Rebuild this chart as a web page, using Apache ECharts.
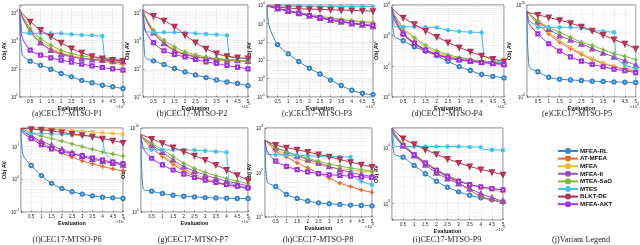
<!DOCTYPE html>
<html><head><meta charset="utf-8">
<script src="https://cdn.jsdelivr.net/npm/echarts@6/dist/echarts.min.js"></script>
<style>html,body{margin:0;padding:0;background:#fff}#c{width:640px;height:245px}</style>
</head><body><div id="c"></div>
<script>
// ---------- data ----------
const names = ['MFEA-RL','AT-MFEA','MFEA','MFEA-II','MTEA-SaO','MTES','BLKT-DE','MFEA-AKT'];
const xTickLabels = ['0.5','1','1.5','2','2.5','3','3.5','4','4.5','5'];
const X = [0,0.1,0.5,1,1.5,2,2.5,3,3.5,4,4.5,5];
const X_MTES = [0,0.1,0.5,1,1.5,2,2.5,3,3.5,4,4.1,4.5,5];
const captions = ['(a)CEC17-MTSO-P1','(b)CEC17-MTSO-P2','(c)CEC17-MTSO-P3','(d)CEC17-MTSO-P4','(e)CEC17-MTSO-P5',
  '(f)CEC17-MTSO-P6','(g)CEC17-MTSO-P7','(h)CEC17-MTSO-P8','(i)CEC17-MTSO-P9','(j)Variant Legend'];

const p1_rl = [1.25e4,353,188,135,97,68,52,39,32,26,23,20];
const p1_at = [1.25e4,7.2e3,2.1e3,849,490,353,283,240,215,193,178,164];
const p1_mfea = [1.25e4,7.6e3,2.4e3,1.0e3,578,383,299,247,210,183,159,143];
const p1_ii = [1.25e4,7.2e3,2.1e3,849,464,325,268,234,215,204,193,183];
const p1_sao = [1.25e4,8.26e3,2.75e3,1.21e3,700,464,353,291,254,228,215,204];
const p1_mtes = [1.25e4,1.93e3,1.83e3,1.83e3,1.83e3,1.83e3,1.68e3,1.59e3,1.55e3,1.47e3,254,228,215];
const p1_blkt = [1.25e4,9.5e3,4.77e3,2.4e3,1.39e3,849,532,373,283,234,210,193];
const p1_akt = [1.25e4,1.39e3,464,308,247,204,173,147,128,112,100,90];

const p2_rl = [1.25e4,268,193,143,103,78,61,49,40,34,30,25];
const p2_at = [1.25e4,6.8e3,1.93e3,849,464,334,268,234,215,199,188,178];
const p2_mfea = [1.25e4,7.2e3,2.1e3,920,490,353,283,240,215,199,188,178];
const p2_ii = [1.25e4,6.8e3,1.93e3,804,440,325,268,240,221,210,199,188];
const p2_sao = [1.25e4,7.6e3,2.4e3,1.06e3,611,405,316,268,234,215,204,193];
const p2_mtes = [1.25e4,2.1e3,1.99e3,1.99e3,1.99e3,1.93e3,1.83e3,1.73e3,1.64e3,1.55e3,268,240,221];
const p2_blkt = [1.25e4,1.09e4,7.6e3,5.2e3,3.16e3,1.59e3,871,518,353,283,254,234];
const p2_akt = [1.25e4,2.4e3,849,440,325,268,215,178,155,132,115,100];

const p3_rl = [9.2e3,724,70.6,22.5,8.5,3.65,1.78,0.83,0.42,0.233,0.159,0.135];
const p3_at = [9.2e3,8.4e3,6.3e3,4.67e3,3.47e3,2.58e3,2.0e3,1.55e3,1.26e3,1.02e3,859,724];
const p3_mfea = [9.2e3,8.4e3,6.55e3,4.87e3,3.78e3,2.93e3,2.28e3,1.84e3,1.55e3,1.31e3,1.16e3,1.02e3];
const p3_ii = [9.2e3,8.4e3,6.3e3,4.67e3,3.47e3,2.58e3,1.92e3,1.49e3,1.21e3,975,822,695];
const p3_sao = [9.2e3,8.4e3,6.55e3,5.08e3,3.94e3,3.05e3,2.47e3,2.0e3,1.69e3,1.43e3,1.26e3,1.11e3];
const p3_mtes = [9.2e3,8.8e3,8.8e3,8.8e3,8.8e3,8.4e3,8.4e3,8.4e3,8.4e3,8.4e3,8.4e3,8.4e3,8.1e3];
const p3_blkt = [9.2e3,8.8e3,7.76e3,6.8e3,6.3e3,6.0e3,5.77e3,5.53e3,5.3e3,5.08e3,4.87e3,4.67e3];
const p3_akt = [9.2e3,8.4e3,6.55e3,4.87e3,3.62e3,2.69e3,2.09e3,1.62e3,1.31e3,1.06e3,896,789];

const p4_rl = [8.2e3,991,682,436,308,223,146,98,73,54,47,42];
const p4_at = [8.2e3,4.08e3,1.12e3,532,324,234,187,162,146,136,126,120];
const p4_mfea = [8.2e3,4.73e3,1.63e3,773,436,286,218,183,162,146,136,126];
const p4_ii = [8.2e3,4.39e3,1.27e3,588,349,253,197,170,154,139,129,120];
const p4_sao = [8.2e3,4.98e3,1.84e3,875,494,324,240,197,170,150,139,129];
const p4_mtes = [8.2e3,1.94e3,1.94e3,1.94e3,1.89e3,1.84e3,1.51e3,1.37e3,1.30e3,1.27e3,223,154,132];
const p4_blkt = [8.2e3,6.4e3,3.88e3,2.36e3,1.44e3,919,603,415,301,223,174,146];
const p4_akt = [8.2e3,3.43e3,1.12e3,560,340,240,187,162,146,132,123,114];

const p5_rl = [1.93e9,1.93e3,562,139,85,72,61,52,48,44,40,37];
const p5_at = [1.93e9,1.0e9,8.5e7,7.2e6,9.2e5,1.78e5,4.4e4,1.18e4,4.4e3,1.93e3,1.0e3,562];
const p5_mfea = [1.93e9,1.0e9,1.28e8,1.09e7,1.39e6,2.68e5,6.1e4,1.51e4,5.2e3,2.28e3,1.28e3,850];
const p5_ii = [1.93e9,1.18e9,1.64e8,2.47e7,4.8e6,1.64e6,6.1e5,1.78e5,6.1e4,2.28e4,8.5e3,2.91e3];
const p5_sao = [1.93e9,1.18e9,1.93e8,3.73e7,1.09e7,3.16e6,9.2e5,4.05e5,1.39e5,5.2e4,2.68e4,1.18e4];
const p5_mtes = [1.93e9,1.93e8,3.73e7,3.73e7,3.73e7,3.73e7,3.16e7,1.64e7,1.39e7,1.09e7,1.51e4,2.91e3,1.28e3];
const p5_blkt = [1.93e9,1.51e9,8.5e8,4.4e8,2.28e8,1.09e8,4.4e7,1.64e7,5.6e6,1.78e6,6.1e5,1.78e5];
const p5_akt = [1.93e9,8.5e7,7.2e6,6.1e5,1.0e5,2.28e4,7.8e3,3.43e3,1.93e3,1.09e3,720,440];

const p6_rl = [35,5.5,2.6,1.28,0.745,0.523,0.412,0.35,0.31,0.283,0.27,0.257];
const p6_at = [35,30.4,18.9,12.7,8.9,6.2,4.7,3.62,2.93,2.42,2.06,1.78];
const p6_mfea = [35,35,34.1,33.3,32.6,31.8,30.4,29.0,27.6,25.7,24.5,22.9];
const p6_ii = [35,30.4,20.3,14.3,10.7,7.9,6.2,4.9,4.07,3.45,3.07,2.73];
const p6_sao = [35,32.6,25.7,20.3,17.2,14.3,11.8,9.8,8.1,6.7,5.8,5.0];
const p6_mtes = [35,25.7,25.1,24.5,23.9,23.4,22.3,21.3,20.3,18.0,6.2,3.45,2.86];
const p6_blkt = [35,35,33.3,31.8,29.0,26.4,23.9,21.8,19.8,17.2,14.9,12.7];
const p6_akt = [35,25.7,17.2,11.2,8.3,7.0,5.9,5.2,4.4,3.79,3.29,2.93];

const p7_rl = [1.58e9,630,302,158,100,76,63,52,48,44,40,40];
const p7_at = [1.58e9,5.2e8,4.0e7,4.0e6,4.8e5,7.6e4,1.9e4,6.3e3,3.0e3,1.58e3,1.0e3,630];
const p7_mfea = [1.58e9,6.3e8,6.3e7,6.3e6,7.6e5,1.32e5,3.3e4,1.0e4,4.0e3,2.1e3,1.2e3,760];
const p7_ii = [1.58e9,7.6e8,1.0e8,1.32e7,1.58e6,2.5e5,7.6e4,2.5e4,1.0e4,4.8e3,2.5e3,1.32e3];
const p7_sao = [1.58e9,7.6e8,1.58e8,2.5e7,4.0e6,6.3e5,1.58e5,5.2e4,2.1e4,1.0e4,4.8e3,2.5e3];
const p7_mtes = [1.58e9,4.0e7,2.5e7,2.5e7,2.5e7,2.5e7,2.3e7,1.9e7,1.58e7,1.32e7,4.0e3,1.0e3,630];
const p7_blkt = [1.58e9,1.32e9,5.2e8,1.58e8,4.8e7,1.58e7,5.2e6,1.58e6,4.0e5,1.0e5,2.5e4,6.3e3];
const p7_akt = [1.58e9,4.0e7,2.5e6,4.0e5,1.0e5,3.3e4,1.32e4,6.3e3,3.3e3,1.9e3,1.2e3,760];

const p8_rl = [532,63,48.3,32.3,26.2,22.8,20.8,19.8,19.1,18.5,18.1,17.8];
const p8_at = [532,471,304,222,165,127,97.5,75,57.5,48.3,40.5,35.9];
const p8_mfea = [532,480,332,255,207,174,151,133,122,114,106,103];
const p8_ii = [532,496,362,294,238,196,165,138,116,101,89,82];
const p8_sao = [532,496,362,294,246,207,180,156,138,127,116,106];
const p8_mtes = [532,255,251,246,242,238,234,230,226,222,82,63,52.7];
const p8_blkt = [532,496,417,362,326,289,255,226,196,171,151,133];
const p8_akt = [532,304,180,138,116,103,94,89,86,83,80,78];

const p9_rl = [2.16e4,7.62e3,6.67e3,4.75e3,3.38e3,2.48e3,1.94e3,1.61e3,1.40e3,1.26e3,1.16e3,1.07e3];
const p9_at = [2.16e4,1.65e4,1.10e4,7.33e3,5.29e3,3.87e3,2.96e3,2.32e3,1.72e3,1.35e3,1.15e3,1.04e3];
const p9_mfea = [2.16e4,1.72e4,1.15e4,7.62e3,5.43e3,4.04e3,3.16e3,2.58e3,2.19e3,1.92e3,1.74e3,1.61e3];
const p9_ii = [2.16e4,1.79e4,1.07e4,7.13e3,4.88e3,3.52e3,2.76e3,2.25e3,1.84e3,1.50e3,1.26e3,1.10e3];
const p9_sao = [2.16e4,1.72e4,1.15e4,7.62e3,5.43e3,4.04e3,3.16e3,2.58e3,2.19e3,1.97e3,1.84e3,1.74e3];
const p9_mtes = [2.16e4,1.04e4,1.03e4,1.03e4,1.03e4,1.03e4,1.03e4,1.03e4,1.01e4,1.0e4,9.1e3,8.98e3,8.86e3];
const p9_blkt = [2.16e4,1.97e4,1.44e4,1.13e4,9.1e3,7.52e3,6.22e3,5.29e3,4.56e3,4.04e3,3.62e3,3.25e3];
const p9_akt = [2.16e4,1.61e4,1.07e4,7.33e3,5.22e3,3.87e3,3.04e3,2.48e3,2.16e3,1.97e3,1.84e3,1.74e3];

const yRanges = [[10,1.86e4],[10,1.86e4],[0.1,1e4],[10,1e4],[1,1e10],[0.1,36],[1,1e10],[10,1000],[508,2.2e4]];

const panelData = [
  [p1_rl,p1_at,p1_mfea,p1_ii,p1_sao,p1_mtes,p1_blkt,p1_akt],
  [p2_rl,p2_at,p2_mfea,p2_ii,p2_sao,p2_mtes,p2_blkt,p2_akt],
  [p3_rl,p3_at,p3_mfea,p3_ii,p3_sao,p3_mtes,p3_blkt,p3_akt],
  [p4_rl,p4_at,p4_mfea,p4_ii,p4_sao,p4_mtes,p4_blkt,p4_akt],
  [p5_rl,p5_at,p5_mfea,p5_ii,p5_sao,p5_mtes,p5_blkt,p5_akt],
  [p6_rl,p6_at,p6_mfea,p6_ii,p6_sao,p6_mtes,p6_blkt,p6_akt],
  [p7_rl,p7_at,p7_mfea,p7_ii,p7_sao,p7_mtes,p7_blkt,p7_akt],
  [p8_rl,p8_at,p8_mfea,p8_ii,p8_sao,p8_mtes,p8_blkt,p8_akt],
  [p9_rl,p9_at,p9_mfea,p9_ii,p9_sao,p9_mtes,p9_blkt,p9_akt]
];

// ---------- layout & style ----------
const grids = [
  {left:17, top:5, width:106, height:92},
  {left:143, top:5, width:105, height:92},
  {left:267, top:5, width:106, height:92},
  {left:392, top:5, width:112, height:92},
  {left:527, top:5, width:110, height:92},
  {left:14, top:128, width:109, height:84},
  {left:141, top:128, width:107, height:84},
  {left:265, top:128, width:107, height:89},
  {left:392, top:128, width:111, height:92}
];
const captionPos = [[67,113.5],[192,113.5],[317,113.5],[447,113.5],[577,113.5],[67,240],[193,240],[318,240],[447,240],[581,240]];
const twoDecade = [false,false,false,false,true,false,true,false,false];

const PLUS = 'path://M4,0H6V10H4Z M0,4H10V6H0Z';
const CROSS = 'path://M0,1.4L1.4,0L5,3.6L8.6,0L10,1.4L6.4,5L10,8.6L8.6,10L5,6.4L1.4,10L0,8.6L3.6,5Z';
const STAR = 'path://M4.2,0H5.8V10H4.2Z M0,4.2H10V5.8H0Z M0.6,1.8L1.8,0.6L9.4,8.2L8.2,9.4Z M8.2,0.6L9.4,1.8L1.8,9.4L0.6,8.2Z';
const styles = [
  {color:'#3584c8', symbol:'emptyCircle', rot:0, size:3.4},
  {color:'#e4672a', symbol:PLUS, rot:0, size:3.8},
  {color:'#f0b63a', symbol:CROSS, rot:0, size:3.4},
  {color:'#9a50b0', symbol:'emptyTriangle', rot:0, size:3.8},
  {color:'#7db83a', symbol:PLUS, rot:0, size:3.8},
  {color:'#3ec1ee', symbol:STAR, rot:0, size:3.8},
  {color:'#b3324f', symbol:'emptyTriangle', rot:180, size:3.8},
  {color:'#a12ee0', symbol:'emptyRect', rot:0, size:3.2}
];

function isMarkX(x) { return x > 0 && Math.abs(x * 2 - Math.round(x * 2)) < 1e-9; }

function minorLines(mn, mx, oddDecadesOnly) {
  const out = [];
  const lo = Math.floor(Math.log10(mn)), hi = Math.ceil(Math.log10(mx));
  for (let d = lo; d <= hi; d++) {
    if (oddDecadesOnly) {
      const v = Math.pow(10, d);
      if (d % 2 !== 0 && v > mn && v < mx) out.push({yAxis: v});
    } else {
      for (let k = 2; k <= 9; k++) {
        const v = k * Math.pow(10, d);
        if (v > mn * 1.0001 && v < mx * 0.9999) out.push({yAxis: v});
      }
    }
  }
  return out;
}

const FONT = 'Liberation Sans';
const option = {
  animation: false,
  backgroundColor: '#fff',
  grid: grids.map(g => Object.assign({show:true, borderColor:'#262626', borderWidth:0.6, backgroundColor:'#fff', containLabel:false}, g)),
  xAxis: grids.map((g, i) => ({
    gridIndex: i, type:'value', min:0, max:5, interval:0.5,
    name:'Evaluation', nameLocation:'middle', nameGap:8,
    nameTextStyle:{fontSize:5.5, fontWeight:'bold', fontFamily:FONT, color:'#111'},
    axisLine:{show:false},
    axisTick:{show:true, inside:true, length:1.5, lineStyle:{color:'#262626', width:0.5}},
    axisLabel:{fontSize:4.5, margin:2.5, color:'#222', fontFamily:FONT,
      formatter: v => { const k = Math.round(v * 2) - 1; return k >= 0 ? xTickLabels[k] : ''; }},
    splitLine:{show:true, lineStyle:{color:'#e3e3e3', width:0.5}}
  })),
  yAxis: grids.map((g, i) => ({
    gridIndex: i, type:'log', logBase:10, min:yRanges[i][0], max:yRanges[i][1],
    name:'Obj AV', nameLocation:'middle', nameGap:12, nameRotate:90,
    nameTextStyle:{fontSize:5.5, fontWeight:'bold', fontFamily:FONT, color:'#111'},
    axisLine:{show:false},
    axisTick:{show:true, inside:true, length:1.5, lineStyle:{color:'#262626', width:0.5}},
    axisLabel:{margin:2, color:'#222', fontFamily:FONT,
      formatter: v => {
        const e = Math.log10(v), r = Math.round(e);
        if (Math.abs(e - r) > 1e-6) return '';
        if (twoDecade[i] && r % 2 !== 0) return '';
        return '{b|10}{s|' + r + '}';
      },
      rich:{ b:{fontSize:4.6, fontFamily:FONT, color:'#222', verticalAlign:'bottom', lineHeight:7},
             s:{fontSize:3.4, fontFamily:FONT, color:'#222', verticalAlign:'top', lineHeight:7} }
    },
    splitLine:{show:true, lineStyle:{color:'#e3e3e3', width:0.5}}
  })),
  legend: {
    orient:'vertical', left:552, top:143, itemWidth:20, itemHeight:5, itemGap:1.6,
    data: names,
    textStyle:{fontSize:6.2, fontWeight:'bold', fontFamily:FONT, color:'#111', lineHeight:6, padding:[0,0,0,-3]}
  },
  series: [],
  graphic: []
};

panelData.forEach((arrs, pi) => {
  arrs.forEach((ys, si) => {
    const st = styles[si];
    const xs = si === 5 ? X_MTES : X;
    const pts = ys.map((v, k) => [xs[k], v]);
    const s = {
      name: names[si], type:'line', xAxisIndex:pi, yAxisIndex:pi,
      data: pts,
      smooth: si === 5 ? false : 0.3,
      symbol: (val) => isMarkX(val[0]) ? st.symbol : 'none',
      symbolSize: st.size, symbolRotate: st.rot,
      showAllSymbol: true, clip: true,
      lineStyle:{color:st.color, width:1},
      itemStyle:{color:st.color, borderColor:st.color, borderWidth:0.7},
      emphasis:{disabled:true}, z: 3 + si
    };
    if (si === 0) {
      s.markLine = {
        silent:true, symbol:['none','none'], label:{show:false}, animation:false,
        lineStyle:{type:'dotted', color:'#d4d4d4', width:0.5},
        data: minorLines(yRanges[pi][0], yRanges[pi][1], twoDecade[pi]),
        z:1
      };
    }
    option.series.push(s);
  });
  const g = grids[pi];
  option.graphic.push({
    type:'text', left: g.left + g.width - 7, top: g.top + g.height + 5.5,
    style:{text:'{a|×10}{b|4}', rich:{a:{fontSize:4.3, fill:'#222', fontFamily:FONT, verticalAlign:'bottom', lineHeight:6},
                                      b:{fontSize:3.2, fill:'#222', fontFamily:FONT, verticalAlign:'top', lineHeight:6}}}
  });
});

captions.forEach((c, i) => {
  option.graphic.push({
    type:'text', x: captionPos[i][0], y: captionPos[i][1],
    style:{text:c, fontSize:8.2, fontFamily:'Liberation Serif', fill:'#222', align:'center', verticalAlign:'middle'}
  });
});

const chart = echarts.init(document.getElementById('c'), null, {renderer:'canvas'});
chart.setOption(option);
</script>
</body></html>
